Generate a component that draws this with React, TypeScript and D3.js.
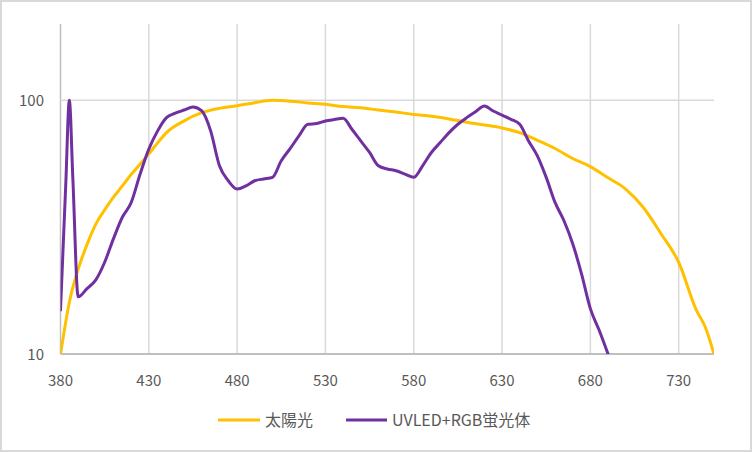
import React, { useEffect, useRef } from "react";
import * as d3 from "d3";

// wavelength (nm) -> relative intensity
const sunWave = [380, 382.5, 385, 390, 395, 400, 405, 410, 415, 420, 425, 430, 435, 440, 450, 460, 470, 480, 490, 500, 510, 520, 530, 540, 550, 560, 570, 580, 590, 600, 610, 620, 630, 640, 650, 660, 670, 680, 690, 700, 710, 720, 730, 740, 745, 750];
const sunValue = [10, 12.8, 16, 21.6, 27, 32.5, 37, 41.5, 46, 51, 56, 61.5, 68, 74.6, 83, 89.4, 93, 95.2, 97.9, 100, 99.3, 97.7, 96.5, 94.5, 93.5, 91.6, 89.9, 88, 86.6, 84.5, 82, 80, 77.8, 74.6, 69.6, 64.6, 59, 54.8, 49.5, 44.7, 37.8, 29.8, 23, 14.9, 12.8, 10];

const ledWave = [380, 383, 385, 387, 390, 395, 400, 405, 410, 415, 420, 425, 430, 435, 440, 445, 450, 455, 460, 465, 470, 475, 480, 485, 490, 495, 500, 505, 510, 515, 520, 525, 530, 535, 540, 545, 550, 555, 560, 565, 570, 575, 580, 585, 590, 595, 600, 605, 610, 615, 620, 625, 630, 635, 640, 645, 650, 655, 660, 665, 670, 675, 680, 685, 690];
const ledValue = [14.9, 47, 100, 49, 16.8, 18.1, 19.6, 23, 28.5, 34.6, 39.5, 51, 64.2, 75.8, 85.5, 89, 91.6, 94.1, 90.8, 75.8, 55.2, 48.2, 44.7, 46, 48.2, 49, 49.7, 57.8, 64.5, 72.4, 80.5, 81, 82.9, 84, 85, 76.9, 69.2, 62.3, 55.2, 53.6, 52.8, 51.2, 49.7, 55.2, 62.3, 68.2, 74.6, 80.5, 85.5, 90.2, 95, 90.8, 87.5, 84.2, 80.5, 69.2, 60.4, 49.7, 39.6, 33.6, 27.2, 20.7, 15.1, 12.4, 10];

const xTicks = [380, 430, 480, 530, 580, 630, 680, 730];
const yTicks = [10, 100];

const seriesNames = ["太陽光", "UVLED+RGB蛍光体"];
const seriesColors = ["#FFC000", "#7030A0"];

const W = 752;
const H = 452;
const font = "'Noto Sans CJK JP', 'Noto Sans', sans-serif";

export default function App() {
  const ref = useRef(null);

  useEffect(() => {
    const svg = d3.select(ref.current);
    svg.selectAll("*").remove();

    const x = d3.scaleLinear().domain([380, 750]).range([60.5, 714]);
    const y = d3.scaleLog().domain([10, 200]).range([354, 24]);

    svg.append("rect")
      .attr("x", 1).attr("y", 1).attr("width", W - 2).attr("height", H - 2)
      .attr("fill", "#fff").attr("stroke", "#d9d9d9").attr("stroke-width", 2);

    svg.append("defs").append("clipPath").attr("id", "plot")
      .append("rect")
      .attr("x", x(380)).attr("y", y(200))
      .attr("width", x(750) - x(380)).attr("height", y(10) - y(200));

    // vertical gridlines
    svg.append("g")
      .selectAll("line")
      .data(xTicks)
      .join("line")
      .attr("x1", (d) => x(d)).attr("x2", (d) => x(d))
      .attr("y1", y(200)).attr("y2", y(10))
      .attr("stroke", (d) => (d === 380 ? "#bfbfbf" : "#d9d9d9"))
      .attr("stroke-width", 1.5);

    // horizontal gridlines
    svg.append("g")
      .selectAll("line")
      .data(yTicks.filter((d) => d !== 10))
      .join("line")
      .attr("x1", x(380)).attr("x2", x(750))
      .attr("y1", (d) => y(d)).attr("y2", (d) => y(d))
      .attr("stroke", "#d9d9d9")
      .attr("stroke-width", 1.5);

    // x axis line
    svg.append("line")
      .attr("x1", x(380)).attr("x2", x(750))
      .attr("y1", y(10)).attr("y2", y(10))
      .attr("stroke", "#bfbfbf").attr("stroke-width", 2);

    // tick labels
    svg.append("g")
      .selectAll("text")
      .data(xTicks)
      .join("text")
      .attr("x", (d) => x(d))
      .attr("y", y(10) + 32)
      .attr("text-anchor", "middle")
      .attr("font-family", font)
      .attr("font-size", 15)
      .attr("fill", "#595959")
      .text((d) => d);

    svg.append("g")
      .selectAll("text")
      .data(yTicks)
      .join("text")
      .attr("x", 44)
      .attr("y", (d) => y(d) + 5.5)
      .attr("text-anchor", "end")
      .attr("font-family", font)
      .attr("font-size", 15)
      .attr("fill", "#595959")
      .text((d) => d);

    const line = d3.line()
      .x((d) => x(d[0]))
      .y((d) => y(d[1]))
      .curve(d3.curveMonotoneX);

    const series = [
      d3.zip(sunWave, sunValue),
      d3.zip(ledWave, ledValue),
    ];

    svg.append("g")
      .attr("clip-path", "url(#plot)")
      .selectAll("path")
      .data(series)
      .join("path")
      .attr("d", line)
      .attr("fill", "none")
      .attr("stroke", (d, i) => seriesColors[i])
      .attr("stroke-width", 3)
      .attr("stroke-linejoin", "round")
      .attr("stroke-linecap", "round");

    // legend
    const legendItems = [
      { x1: 218, x2: 260, tx: 265 },
      { x1: 346, x2: 387, tx: 392 },
    ];
    const lg = svg.append("g");
    legendItems.forEach((p, i) => {
      lg.append("line")
        .attr("x1", p.x1).attr("x2", p.x2)
        .attr("y1", 420).attr("y2", 420)
        .attr("stroke", seriesColors[i]).attr("stroke-width", 3);
      lg.append("text")
        .attr("x", p.tx).attr("y", 426)
        .attr("font-family", font)
        .attr("font-size", 16)
        .attr("fill", "#595959")
        .text(seriesNames[i]);
    });
  }, []);

  return (
    <svg
      ref={ref}
      width={W}
      height={H}
      style={{ position: "absolute", left: 0, top: 0 }}
    />
  );
}
